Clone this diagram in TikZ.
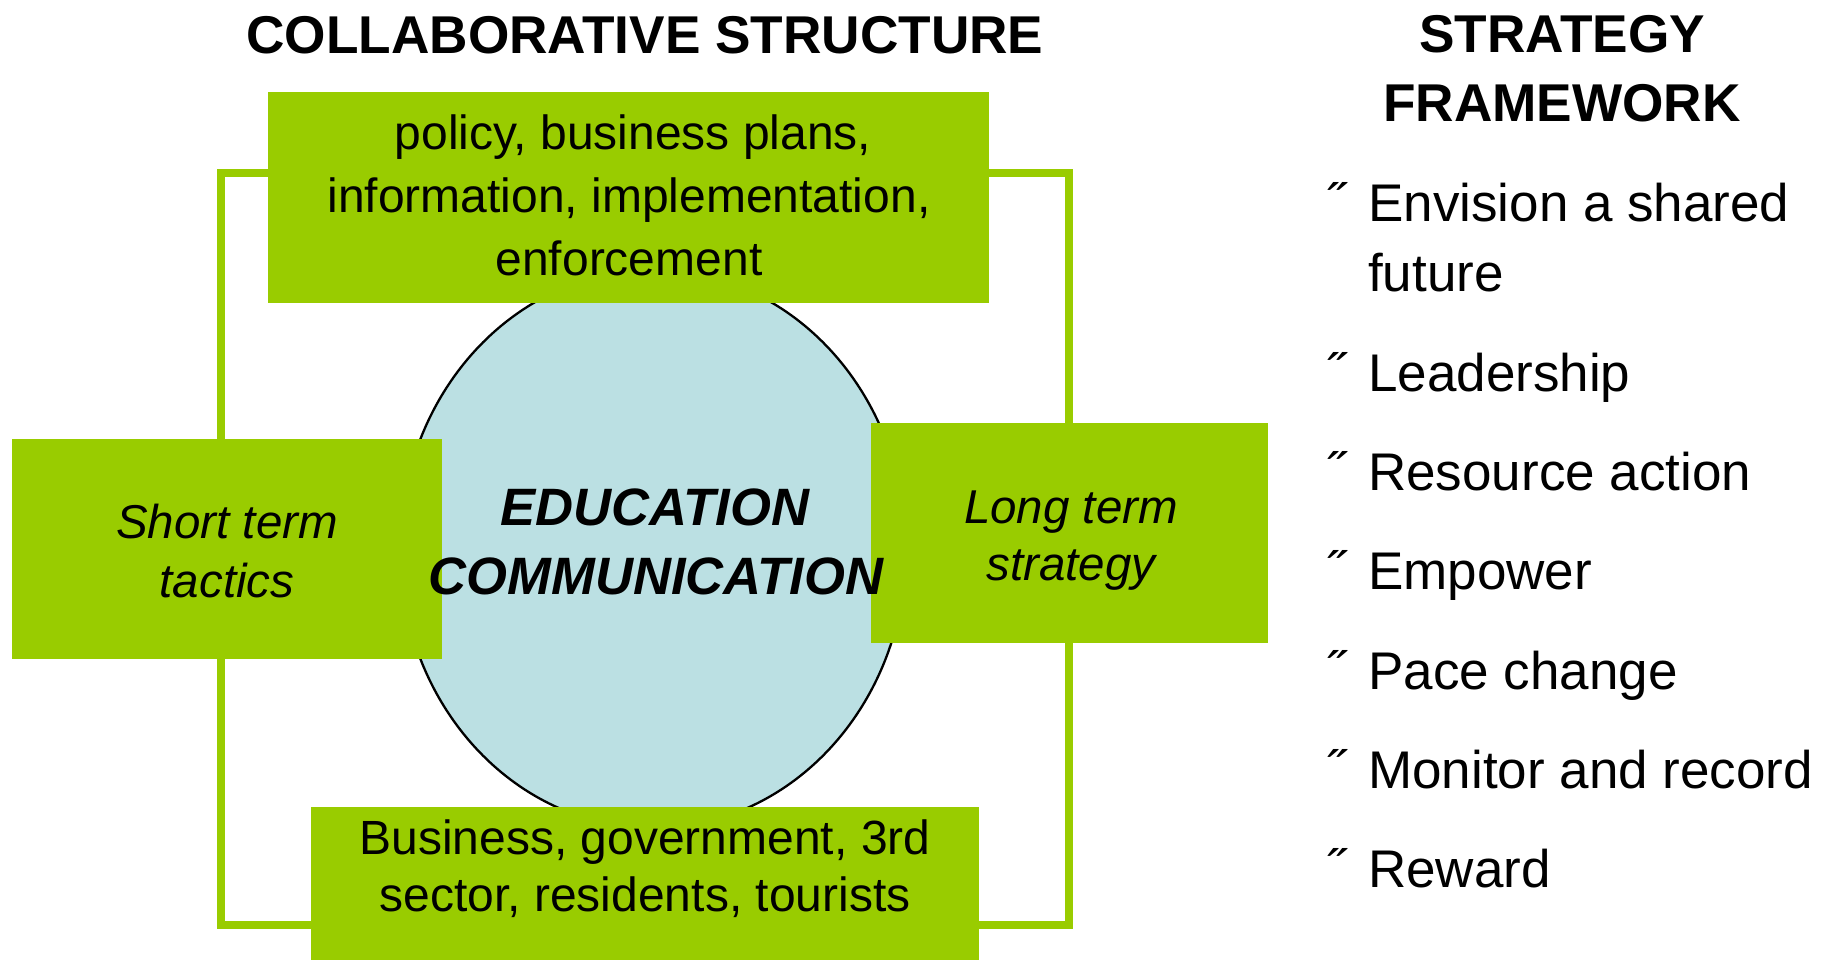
\documentclass[tikz,border=0pt]{standalone}
\usepackage{fontspec}
\setmainfont{Liberation Sans}
\usetikzlibrary{shapes.geometric}
\definecolor{boxgreen}{HTML}{99CC00}
\definecolor{ovalblue}{HTML}{BBE0E3}
\tikzset{
  gbox/.style={fill=boxgreen, draw=none, inner sep=0pt, outer sep=0pt},
  frameline/.style={draw=boxgreen, line width=8.5pt},
  oval/.style={ellipse, fill=ovalblue, draw=black, line width=2.3pt, inner sep=0pt},
  ttl/.style={anchor=base, inner sep=0pt, font=\fontsize{53.2}{60}\selectfont\bfseries},
  boxtxt/.style={anchor=base, inner sep=0pt, font=\fontsize{48}{55}\selectfont},
  boxit/.style={anchor=base, inner sep=0pt, font=\fontsize{47.5}{55}\selectfont\itshape},
  ctr/.style={anchor=base, inner sep=0pt, font=\fontsize{52.6}{60}\selectfont\bfseries\itshape},
  item/.style={anchor=base west, inner sep=0pt, font=\fontsize{53}{60}\selectfont},
}
\begin{document}
\begin{tikzpicture}[x=1pt, y=-1pt]
\useasboundingbox (0,0) rectangle (1824,960);
% frame
\coordinate (fTL) at (221,173);
\coordinate (fBR) at (1069,925);
\draw[frameline] (fTL) rectangle (fBR);
% central oval
\node[oval, minimum width=506, minimum height=558] (oval) at (653,549) {};
% boxes
\node[gbox, minimum width=721, minimum height=211] (topbox) at (628.5,197.5) {};
\node[gbox, minimum width=430, minimum height=220] (leftbox) at (227,549) {};
\node[gbox, minimum width=397, minimum height=220] (rightbox) at (1069.5,533) {};
\node[gbox, minimum width=668, minimum height=156] (botbox) at (645,885) {};
% titles
\node[ttl] (t1) at (645,54) {COLLABORATIVE STRUCTURE};
\node[ttl] (t2a) at (1562,53) {STRATEGY};
\node[ttl] (t2b) at (1562,122) {FRAMEWORK};
% top box text
\node[boxtxt] (tb1) at (633,150) {policy, business plans,};
\node[boxtxt] (tb2) at (629,213) {information, implementation,};
\node[boxtxt] (tb3) at (629,276) {enforcement};
% bottom box text
\node[boxtxt] (bb1) at (645,854) {Business, government, 3rd};
\node[boxtxt] (bb2) at (645,911) {sector, residents, tourists};
% side boxes
\node[boxit] (lb1) at (227,538) {Short term};
\node[boxit] (lb2) at (227,597) {tactics};
\node[boxit] (rb1) at (1071,523) {Long term};
\node[boxit] (rb2) at (1071,580) {strategy};
% centre
\node[ctr] (c1) at (655,525) {EDUCATION};
\node[ctr] (c2) at (656,594) {COMMUNICATION};
% list
\foreach \n/\yy/\tx in {a/222/{Envision a shared}, b/391/{Leadership}, c/490/{Resource action}, d/589/{Empower}, e/689/{Pace change}, f/788/{Monitor and record}, g/887/{Reward}} {
  \node[item] (bul\n) at (1327,\yy) {˝};
  \node[item] (it\n) at (1368,\yy) {\tx};
}
\node[item] (ita2) at (1368,291) {future};
\end{tikzpicture}
\end{document}
